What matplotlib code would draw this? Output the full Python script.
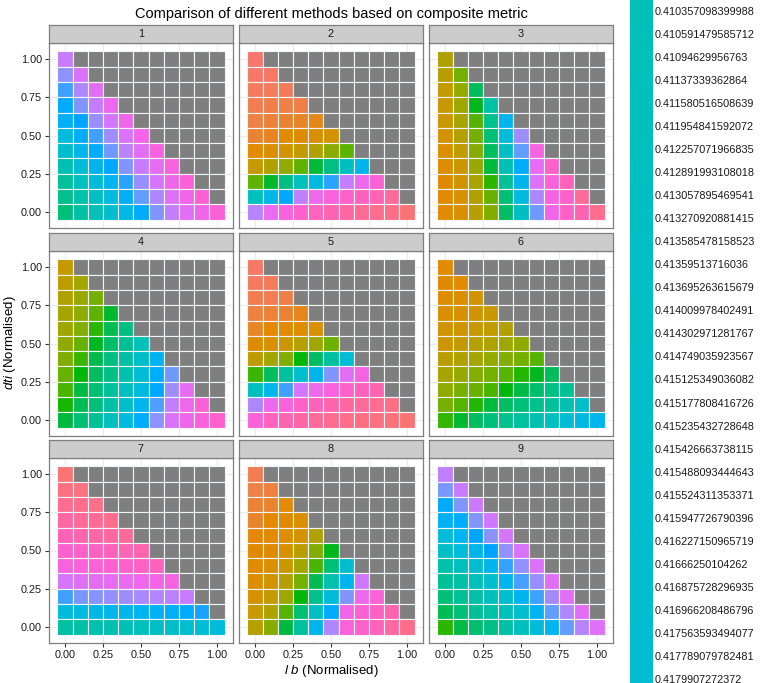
import numpy as np
import matplotlib
matplotlib.use("Agg")
import matplotlib.pyplot as plt

plt.rcParams["font.family"] = ["Liberation Sans", "DejaVu Sans"]
plt.rcParams["mathtext.fontset"] = "custom"
plt.rcParams["mathtext.it"] = "Liberation Sans:italic"
plt.rcParams["mathtext.rm"] = "Liberation Sans"

# tile centres (both lb and dti, normalised)
steps = [0.0, 0.1, 0.2, 0.3, 0.4, 0.5, 0.6, 0.7, 0.8, 0.9, 1.0]

# fill hue (degrees on the ggplot hue wheel) read per tile,
# rows go from dti = 1.0 (top) down to dti = 0.0, columns from lb = 0
panel1 = [
    [285],
    [265, 295],
    [250, 275, 300],
    [238, 262, 285, 308],
    [230, 245, 268, 292, 310],
    [210, 235, 250, 270, 295, 313],
    [200, 220, 236, 258, 280, 300, 318],
    [185, 205, 222, 240, 262, 285, 302, 320],
    [172, 192, 208, 226, 248, 268, 293, 310, 323],
    [165, 180, 195, 213, 232, 255, 275, 297, 312, 325],
    [157, 177, 188, 200, 217, 238, 262, 283, 300, 312, 323],
]
panel2 = [
    [15],
    [17, 18],
    [20, 21, 22],
    [25, 27, 28, 27],
    [28, 31, 33, 35, 37],
    [33, 36, 42, 46, 48, 55],
    [42, 48, 55, 68, 80, 98, 115],
    [65, 80, 95, 115, 135, 160, 193, 222],
    [115, 132, 160, 190, 215, 248, 285, 308, 325],
    [190, 218, 242, 282, 308, 320, 330, 338, 343, 355],
    [278, 305, 320, 330, 337, 345, 352, 358, 362, 365, 372],
]
panel3 = [
    [80],
    [75, 108],
    [68, 95, 145],
    [64, 90, 130, 178],
    [62, 84, 118, 165, 222],
    [55, 78, 108, 157, 208, 270],
    [50, 70, 102, 147, 195, 255, 318],
    [47, 63, 92, 137, 185, 237, 303, 330],
    [43, 58, 84, 125, 170, 222, 297, 322, 340],
    [42, 52, 79, 112, 155, 212, 275, 316, 330, 357],
    [42, 50, 75, 102, 148, 195, 258, 312, 332, 345, 362],
]
panel4 = [
    [66],
    [72, 86],
    [80, 92, 108],
    [85, 97, 115, 133],
    [90, 102, 125, 142, 160],
    [96, 112, 130, 150, 168, 190],
    [103, 123, 140, 160, 177, 198, 225],
    [112, 128, 148, 163, 182, 205, 235, 258],
    [120, 138, 155, 172, 192, 212, 240, 270, 302],
    [127, 143, 158, 178, 198, 222, 252, 283, 308, 325],
    [137, 155, 170, 192, 212, 237, 265, 295, 310, 322, 330],
]
panel5 = [
    [18],
    [20, 21],
    [24, 25, 27],
    [29, 32, 33, 37],
    [35, 40, 42, 45, 50],
    [46, 52, 62, 77, 90, 110],
    [71, 87, 102, 128, 148, 175, 205],
    [123, 146, 172, 200, 223, 262, 300, 316],
    [192, 220, 250, 292, 308, 320, 330, 338, 345],
    [275, 308, 320, 332, 340, 348, 352, 355, 360, 365],
    [322, 338, 345, 350, 356, 360, 363, 366, 368, 370, 372],
]
panel6 = [
    [42],
    [43, 44],
    [47, 49, 55],
    [50, 53, 57, 63],
    [56, 60, 64, 68, 78],
    [61, 69, 76, 82, 90, 96],
    [73, 79, 87, 95, 102, 108, 117],
    [85, 93, 102, 108, 117, 126, 130, 145],
    [96, 106, 112, 120, 128, 139, 152, 162, 170],
    [107, 117, 126, 136, 148, 157, 165, 173, 183, 197],
    [124, 133, 146, 157, 165, 173, 182, 192, 205, 215, 223],
]
panel7 = [
    [372],
    [366, 368],
    [360, 362, 364],
    [352, 356, 358, 362],
    [342, 346, 349, 353, 356],
    [328, 332, 336, 340, 343, 347],
    [318, 321, 324, 327, 330, 334, 338],
    [292, 298, 302, 303, 305, 309, 312, 316],
    [250, 260, 263, 267, 270, 273, 277, 280, 285],
    [210, 213, 216, 220, 222, 225, 228, 232, 236, 247],
    [176, 178, 182, 184, 187, 190, 194, 197, 201, 204, 208],
]
panel8 = [
    [24],
    [28, 30],
    [32, 34, 42],
    [34, 40, 43, 48],
    [38, 42, 47, 55, 80],
    [41, 46, 52, 73, 102, 130],
    [44, 50, 63, 88, 120, 157, 200],
    [47, 57, 77, 108, 142, 183, 225, 290],
    [53, 67, 90, 128, 165, 208, 262, 308, 322],
    [63, 80, 117, 155, 195, 238, 312, 325, 334, 346],
    [77, 101, 137, 174, 222, 275, 322, 330, 340, 353, 363],
]
panel9 = [
    [282],
    [260, 286],
    [238, 262, 288],
    [230, 237, 262, 290],
    [207, 225, 245, 264, 292],
    [196, 207, 222, 246, 266, 294],
    [180, 191, 201, 222, 249, 267, 296],
    [170, 179, 190, 201, 223, 251, 268, 298],
    [156, 170, 179, 190, 201, 225, 250, 272, 300],
    [143, 156, 170, 178, 189, 201, 226, 255, 275, 301],
    [125, 138, 152, 163, 178, 191, 208, 225, 256, 278, 297],
]
panels = [panel1, panel2, panel3, panel4, panel5, panel6, panel7, panel8, panel9]
panel_titles = ["1", "2", "3", "4", "5", "6", "7", "8", "9"]

legend_labels = [
    "0.410357098399988", "0.410591479585712", "0.41094629956763",
    "0.41137339362864", "0.411580516508639", "0.411954841592072",
    "0.412257071966835", "0.412891993108018", "0.413057895469541",
    "0.413270920881415", "0.413585478158523", "0.41359513716036",
    "0.413695263615679", "0.414009978402491", "0.414302971281767",
    "0.414749035923567", "0.415125349036082", "0.415177808416726",
    "0.415235432728648", "0.415426663738115", "0.415488093444643",
    "0.415524311353371", "0.415947726790396", "0.416227150965719",
    "0.41666250104262", "0.416875728296935", "0.416966208486796",
    "0.417563593494077", "0.417789079782481", "0.4179907272372",
]


def hcl_hex(h, c=100.0, l=65.0):
    # polar Luv -> sRGB, same as R's hcl()
    hr = np.deg2rad(h)
    u, v = c * np.cos(hr), c * np.sin(hr)
    xn, yn, zn = 95.047, 100.0, 108.883
    un = 4 * xn / (xn + 15 * yn + 3 * zn)
    vn = 9 * yn / (xn + 15 * yn + 3 * zn)
    y = yn * ((l + 16) / 116) ** 3 if l > 8 else yn * l / 903.3
    up = u / (13 * l) + un
    vp = v / (13 * l) + vn
    x = 9 * y * up / (4 * vp)
    z = y * (12 - 3 * up - 20 * vp) / (4 * vp)
    xyz = np.array([x, y, z]) / 100
    m = np.array([[3.2404542, -1.5371385, -0.4985314],
                  [-0.9692660, 1.8760108, 0.0415560],
                  [0.0556434, -0.2040259, 1.0572252]])
    rgb = m @ xyz
    rgb = np.where(rgb <= 0.0031308, 12.92 * rgb, 1.055 * np.abs(rgb) ** (1 / 2.4) - 0.055)
    rgb = np.clip(rgb, 0, 1)
    return "#%02X%02X%02X" % tuple(int(round(ch * 255)) for ch in rgb)


W, H = 767, 683
fig = plt.figure(figsize=(W / 100, H / 100), dpi=100)

col_x = [49, 239, 429]
row_top = [43, 251, 458]
pw, ph, sh = 184, 185, 18
na_grey = "#7F7F7F"
frame = "#7F7F7F"

for k, rows in enumerate(panels):
    r, c = divmod(k, 3)
    x0, top = col_x[c], row_top[r]
    ax = fig.add_axes([x0 / W, 1 - (top + ph) / H, pw / W, ph / H])
    ax.set_xlim(-0.105, 1.105)
    ax.set_ylim(-0.105, 1.105)
    ax.set_xticks([0, 0.25, 0.5, 0.75, 1.0])
    ax.set_yticks([0, 0.25, 0.5, 0.75, 1.0])
    ax.set_xticks([0.125, 0.375, 0.625, 0.875], minor=True)
    ax.set_yticks([0.125, 0.375, 0.625, 0.875], minor=True)
    ax.grid(True, which="major", color="#EBEBEB", lw=0.8, zorder=0)
    ax.grid(True, which="minor", color="#F7F7F7", lw=0.5, zorder=0)
    ax.set_axisbelow(True)
    for s in ax.spines.values():
        s.set_color(frame)
        s.set_linewidth(0.9)

    for i, hues in enumerate(rows):
        yv = steps[10 - i]
        cols = [hcl_hex(h) for h in hues] + [na_grey] * (len(steps) - len(hues))
        ax.bar(steps, 0.1, width=0.1, bottom=yv - 0.05, color=cols,
               edgecolor="#F2F5FA", linewidth=0.8, zorder=2)

    ax.tick_params(which="minor", length=0)
    ax.tick_params(which="major", length=3, width=0.8, color="#333333",
                   labelsize=7.8, labelcolor="#1A1A1A", pad=2)
    if c == 0:
        ax.set_yticklabels(["0.00", "0.25", "0.50", "0.75", "1.00"])
    else:
        ax.tick_params(axis="y", left=False, labelleft=False)
    if r == 2:
        ax.set_xticklabels(["0.00", "0.25", "0.50", "0.75", "1.00"])
    else:
        ax.tick_params(axis="x", bottom=False, labelbottom=False)

    sax = fig.add_axes([x0 / W, 1 - top / H, pw / W, sh / H])
    sax.set_facecolor("#CCCCCC")
    sax.set_xticks([])
    sax.set_yticks([])
    for s in sax.spines.values():
        s.set_color(frame)
        s.set_linewidth(0.9)
    sax.text(0.5, 0.5, panel_titles[k], ha="center", va="center",
             fontsize=7.8, color="#1A1A1A", transform=sax.transAxes)

fig.text(331 / W, 1 - 14 / H, "Comparison of different methods based on composite metric",
         ha="center", va="center", fontsize=10.5)
fig.text(331 / W, 1 - 671 / H, r"$\mathit{l\ b}$ (Normalised)",
         ha="center", va="center", fontsize=9.5)
fig.text(10 / W, 1 - 343 / H, r"$\mathit{dti}$ (Normalised)",
         ha="center", va="center", rotation=90, fontsize=9.5)

# legend: only the middle of a very long discrete key is visible
vals = [float(s) for s in legend_labels]
key_cols = [hcl_hex(h) for h in np.interp(vals, [vals[0], vals[-1]], [188, 204])]
idx = np.arange(len(legend_labels))
lax = fig.add_axes([630 / W, 0, 23 / W, 1])
lax.barh(idx, 1, height=1.02, color=key_cols, linewidth=0)
lax.set_xlim(0, 1)
lax.set_ylim((683 - 12) / 23.03, -12 / 23.03)
lax.axis("off")
for i, lab in enumerate(legend_labels):
    lax.text(25 / 23, i, lab, ha="left", va="center", fontsize=7.8,
             color="#1A1A1A", clip_on=False)

fig.savefig("out.png", dpi=100)
